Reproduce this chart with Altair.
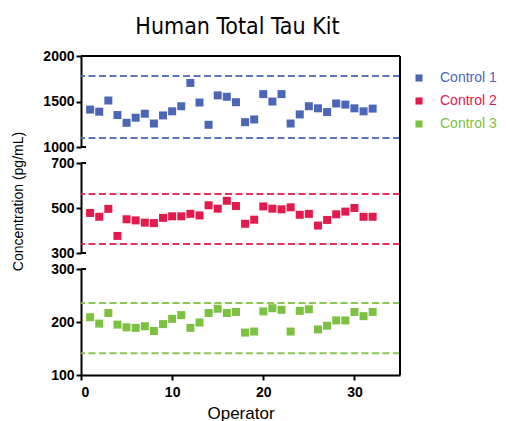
import altair as alt
import pandas as pd

operators = list(range(1, 33))
control1 = [1411, 1388, 1511, 1351, 1266, 1322, 1366, 1258, 1347, 1392, 1448, 1704,
            1489, 1244, 1567, 1552, 1492, 1273, 1303, 1581, 1500, 1581, 1258, 1358,
            1448, 1425, 1384, 1478, 1466, 1425, 1392, 1422]
control2 = [478, 461, 496, 376, 450, 445, 435, 433, 456, 463, 463, 474,
            467, 512, 497, 532, 509, 430, 448, 507, 497, 494, 503, 470,
            474, 422, 447, 472, 484, 500, 461, 461]
control3 = [209, 197, 217, 195, 190, 189, 192, 183, 196, 206, 213, 189,
            199, 217, 225, 217, 219, 180, 182, 220, 226, 223, 182, 221,
            224, 186, 193, 203, 203, 219, 211, 219]
series = ["Control 1", "Control 2", "Control 3"]
colors = ["#4A66B4", "#E31A4B", "#7CC142"]
limits = [[1100, 1780], [340, 562], [141, 236]]
domains = [[1000, 2000], [300, 700], [100, 300]]
tick_values = [[1000, 1500, 2000], [300, 500, 700], [100, 200, 300]]
x_ticks = [0, 10, 20, 30]
values = [control1, control2, control3]

heights = [91, 90, 106]
W = 319
GAP = 16
FONT = "Liberation Sans, Arial, Helvetica, sans-serif"

color_scale = alt.Scale(domain=series, range=colors)


def frame_rule(**enc):
    return alt.Chart(pd.DataFrame({"a": [0]})).mark_rule(
        color="black", strokeWidth=2).encode(**enc)


panels = []
for i in range(3):
    df = pd.DataFrame({"Operator": operators, "Value": values[i], "Series": series[i]})
    lim = pd.DataFrame({"Value": limits[i], "Series": series[i]})
    yaxis = alt.Axis(
        values=tick_values[i], grid=False, format="d",
        domainColor="black", domainWidth=2, tickColor="black", tickWidth=2, tickSize=5,
        labelFont=FONT, labelFontWeight="bold", labelFontSize=14, labelColor="black",
        labelPadding=2,
        title="Concentration (pg/mL)" if i == 1 else None,
        titleFont=FONT, titleFontSize=14, titleFontWeight="normal", titleColor="black",
        titlePadding=25, titleY=38,
    )
    if i == 2:
        xaxis = alt.Axis(
            values=x_ticks, grid=False, title="Operator", format="d",
            domainColor="black", domainWidth=2, tickColor="black", tickWidth=2, tickSize=5,
            labelFont=FONT, labelFontWeight="bold", labelFontSize=14, labelColor="black",
            labelPadding=5, titleFont=FONT, titleFontSize=17, titleFontWeight="normal",
            titleColor="black", titlePadding=6,
        )
    else:
        xaxis = None
    xenc = alt.X("Operator:Q", scale=alt.Scale(domain=[0, 35], nice=False, zero=False), axis=xaxis)
    yenc = alt.Y("Value:Q", scale=alt.Scale(domain=domains[i], nice=False, zero=False), axis=yaxis)

    pts = alt.Chart(df).mark_square(size=64, opacity=1).encode(
        x=xenc, y=yenc,
        color=alt.Color("Series:N", scale=color_scale, legend=None),
    )
    rules = alt.Chart(lim).mark_rule(strokeDash=[7, 3.5], strokeWidth=2, opacity=0.9).encode(
        y=alt.Y("Value:Q"),
        color=alt.Color("Series:N", scale=color_scale, legend=None),
    )
    data_layer = alt.layer(rules, pts)
    h = heights[i]
    top = 0 if i == 0 else -GAP
    layers = [data_layer,
              frame_rule(x=alt.value(W), y=alt.value(top), y2=alt.value(h))]
    # end caps of the broken y axis
    if i < 2:
        layers.append(frame_rule(x=alt.value(0), x2=alt.value(5), y=alt.value(h)))
    if i > 0:
        layers.append(frame_rule(x=alt.value(0), x2=alt.value(5), y=alt.value(0)))
    if i == 0:
        layers.append(frame_rule(x=alt.value(0), x2=alt.value(W), y=alt.value(0)))
        # legend drawn from the series list, to the right of the frame
        leg_df = pd.DataFrame({"Series": series})
        leg_y = alt.Y("Series:N", axis=None,
                      scale=alt.Scale(type="point", domain=series, range=[22, 68], padding=0))
        leg_sq = alt.Chart(leg_df).mark_square(size=50, opacity=1).encode(
            x=alt.value(W + 19), y=leg_y,
            color=alt.Color("Series:N", scale=color_scale, legend=None),
        )
        leg_tx = alt.Chart(leg_df).mark_text(align="left", baseline="middle",
                                             font=FONT, fontSize=14).encode(
            x=alt.value(W + 40), y=leg_y, text="Series:N",
            color=alt.Color("Series:N", scale=color_scale, legend=None),
        )
        layers.append(alt.layer(leg_sq, leg_tx))
        panel = alt.layer(*layers).resolve_scale(y="independent").properties(
            width=W, height=h,
            title=alt.TitleParams(
                "Human Total Tau Kit",
                font="Liberation Sans Narrow, DejaVu Sans Condensed, Arial Narrow, Liberation Sans, sans-serif",
                fontSize=23, fontWeight="normal", color="black", anchor="middle",
                frame="group", offset=10, dx=-3,
            ),
        )
    else:
        panel = alt.layer(*layers).properties(width=W, height=h)
    panels.append(panel)

chart = alt.vconcat(*panels, spacing=GAP, bounds="flush").properties(
    padding={"left": 11, "top": 16, "right": 0, "bottom": 0},
).configure_view(strokeWidth=0)

chart.save("out.html", embed_options={"renderer": "svg", "actions": False})
